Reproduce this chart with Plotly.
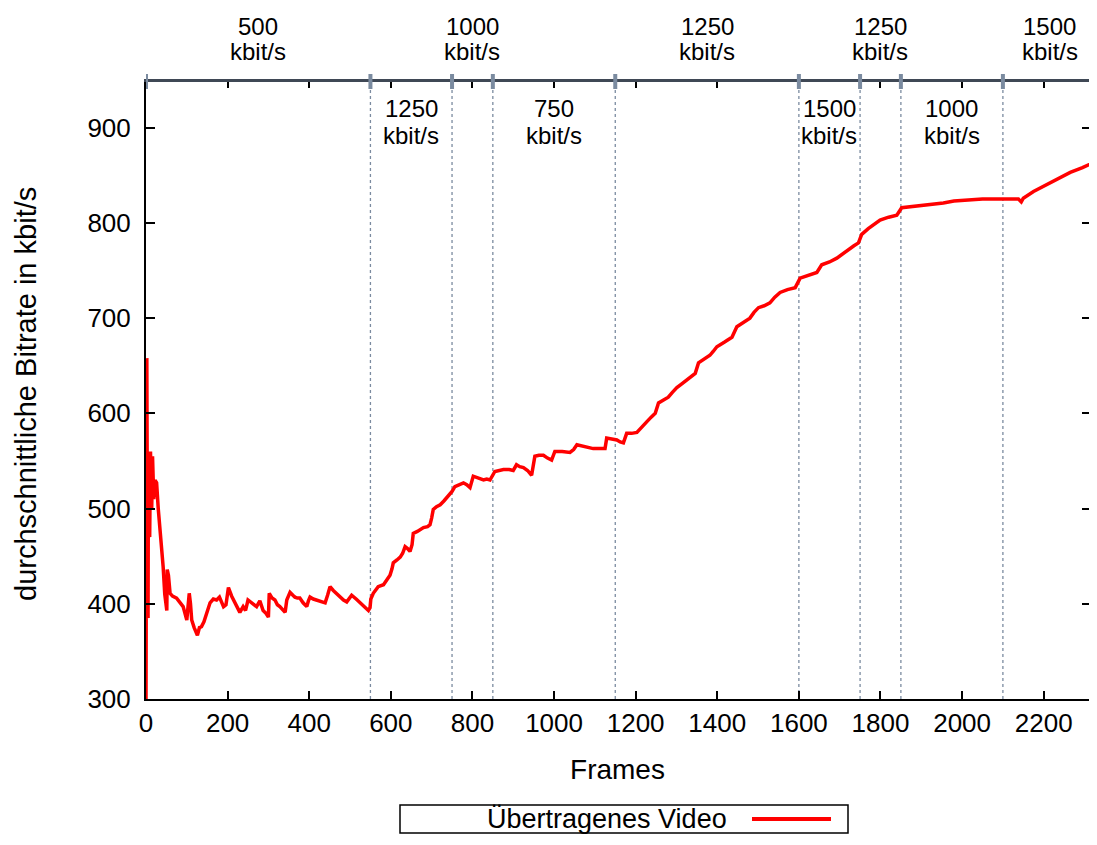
import plotly.graph_objects as go

# ---- data ----
frames = [0, 2, 4, 5, 6, 9, 11, 14, 16, 19, 22, 26, 30, 34, 38, 42, 46, 49, 51, 52, 55, 59, 65, 75, 85, 91,
          100, 103, 106, 109, 112, 118, 126, 131, 136, 142, 149, 153, 157, 165, 173, 180, 190, 196, 202,
          210, 218, 225, 230, 238, 244, 250, 256, 262, 271, 279, 287, 294, 300, 302, 309, 316, 322, 328,
          335, 341, 345, 353, 360, 365, 371, 377, 385, 394, 398, 402, 410, 418, 428, 439, 445, 451, 459,
          467, 475, 484, 492, 498, 504, 515, 525, 535, 545, 549, 551, 557, 569, 582, 590, 598, 603, 606,
          615, 623, 629, 635, 641, 647, 652, 655, 665, 680, 690, 696, 700, 704, 712, 721, 730, 741, 750,
          757, 766, 778, 786, 794, 802, 815, 827, 835, 843, 855, 865, 876, 890, 900, 908, 916, 925, 935,
          945, 953, 963, 974, 984, 994, 1002, 1020, 1039, 1048, 1056, 1066, 1076, 1086, 1096, 1110, 1125,
          1129, 1140, 1154, 1162, 1170, 1178, 1190, 1203, 1215, 1227, 1238, 1248, 1256, 1268, 1280, 1290,
          1301, 1313, 1325, 1336, 1346, 1354, 1368, 1382, 1390, 1399, 1418, 1436, 1448, 1464, 1480, 1490,
          1501, 1515, 1529, 1541, 1554, 1572, 1591, 1603, 1625, 1644, 1656, 1675, 1693, 1708, 1721, 1735,
          1746, 1754, 1770, 1785, 1799, 1820, 1840, 1852, 1875, 1905, 1930, 1954, 1980, 2011, 2050, 2093,
          2120, 2138, 2145, 2150, 2175, 2207, 2235, 2265, 2295, 2330]
bitrate = [300, 658, 390, 385, 560, 470, 560, 500, 555, 510, 530, 527, 500, 481, 460, 439, 410, 393, 393, 436,
           430, 411, 408, 406, 400, 397, 383, 395, 411, 400, 383, 375, 367, 375, 376, 381, 390, 397, 401, 405,
           404, 407, 397, 399, 417, 408, 401, 395, 391, 397, 393, 404, 402, 399, 397, 403, 393, 390, 386, 411,
           406, 404, 399, 397, 393, 391, 404, 412, 409, 407, 406, 406, 401, 397, 403, 407, 405, 404, 402, 401,
           409, 418, 414, 411, 407, 404, 402, 405, 409, 405, 401, 397, 393, 396, 405, 411, 418, 420, 425, 430,
           437, 443, 446, 449, 453, 460, 458, 455, 462, 474, 476, 480, 481, 483, 490, 499, 502, 504, 508, 513,
           518, 523, 525, 527, 525, 522, 534, 532, 530, 531, 530, 539, 540, 541, 541, 540, 546, 544, 543, 540,
           535, 555, 556, 556, 553, 551, 560, 560, 559, 562, 567, 566, 565, 564, 563, 563, 563, 574, 573, 572,
           570, 569, 579, 579, 580, 585, 591, 596, 600, 611, 614, 617, 622, 627, 631, 635, 638, 642, 653, 657,
           661, 665, 670, 675, 680, 691, 695, 700, 706, 711, 713, 716, 722, 727, 730, 732, 742, 745, 748, 756,
           759, 763, 768, 772, 776, 779, 788, 794, 799, 803, 806, 808, 816, 817, 818, 820, 821, 823, 824, 825,
           825, 825, 825, 822, 826, 833, 840, 847, 853, 858, 865]

# bandwidth phases: boundaries (frames) and bitrate limit per phase
phase_bounds = [0, 550, 750, 850, 1150, 1600, 1750, 1850, 2100, 2330]
phase_rates = [500, 1250, 1000, 750, 1250, 1500, 1250, 1000, 1500]

x_ticks = list(range(0, 2201, 200))
y_ticks = list(range(300, 901, 100))

X_RANGE = [0, 2311]
Y_RANGE = [300, 948]

FONT = "Liberation Sans, Arial, Helvetica, sans-serif"
MARK_COLOR = "#7b8ba0"

# page geometry: the html body adds an 8 px margin around the figure
OFF = 8
W, H = 1097 - 2 * OFF, 845 - 2 * OFF
PL, PT, PB = 146, 82, 699          # plot edges in page pixels
L, T, R = PL - OFF, PT - OFF, 0
B = H - (PB - OFF)
PW, PH = W - L - R, H - T - B


def px_x(p):
    return (p - PL) / PW


def px_y(p):
    return (PB - p) / PH


fig = go.Figure()
fig.add_trace(go.Scatter(x=frames, y=bitrate, mode="lines", name="Übertragenes Video",
                         line=dict(color="#ff0000", width=3.5), showlegend=False))
# helper traces so that the top x axis and right y axis are drawn
fig.add_trace(go.Scatter(x=[], y=[], xaxis="x2", yaxis="y", showlegend=False, hoverinfo="skip"))
fig.add_trace(go.Scatter(x=[], y=[], xaxis="x", yaxis="y2", showlegend=False, hoverinfo="skip"))

shapes = []
# dotted phase boundaries
for b in phase_bounds[1:-1]:
    shapes.append(dict(type="line", xref="x", yref="paper", x0=b, x1=b, y0=0, y1=1,
                       line=dict(color=MARK_COLOR, width=1.3, dash="dot"), layer="below"))
# boundary markers on the top axis
for b in phase_bounds[:-1]:
    shapes.append(dict(type="line", xref="x", yref="paper", x0=b, x1=b,
                       y0=1 - 7 / PH, y1=1 + 8 / PH,
                       line=dict(color=MARK_COLOR, width=4), layer="above"))

annotations = []
for i, rate in enumerate(phase_rates):
    cx = (phase_bounds[i] + phase_bounds[i + 1]) / 2
    if i % 2 == 0:
        shifts = (56, 31)
    else:
        shifts = (-26, -53)
    for txt, ys in zip((str(rate), "kbit/s"), shifts):
        annotations.append(dict(x=cx, xref="x", y=1, yref="paper", yshift=ys, text=txt,
                                showarrow=False, xanchor="center", yanchor="middle",
                                font=dict(size=24, color="black", family=FONT)))

# y-axis title
annotations.append(dict(x=0, xref="paper", xshift=26 - PL, y=px_y(394), yref="paper",
                        text="durchschnittliche Bitrate in kbit/s", textangle=-90,
                        showarrow=False, xanchor="center", yanchor="middle",
                        font=dict(size=29, color="black", family=FONT)))

# legend box (drawn manually: text left of the line sample)
LEG_TOP, LEG_BOT = 805, 833
LEG_MID = (LEG_TOP + LEG_BOT) / 2
shapes.append(dict(type="rect", xref="paper", yref="paper",
                   x0=px_x(400), x1=px_x(848), y0=px_y(LEG_BOT), y1=px_y(LEG_TOP),
                   line=dict(color="black", width=1.5), fillcolor="white"))
shapes.append(dict(type="line", xref="paper", yref="paper",
                   x0=px_x(752), x1=px_x(831), y0=px_y(LEG_MID), y1=px_y(LEG_MID),
                   line=dict(color="#ff0000", width=4)))
annotations.append(dict(x=px_x(607), xref="paper", y=px_y(LEG_MID), yref="paper",
                        text="Übertragenes Video", showarrow=False,
                        xanchor="center", yanchor="middle",
                        font=dict(size=27, color="black", family=FONT)))

fig.update_layout(
    width=W, height=H,
    margin=dict(l=L, r=R, t=T, b=B),
    paper_bgcolor="white", plot_bgcolor="white",
    font=dict(family=FONT, size=26, color="black"),
    xaxis=dict(range=X_RANGE, tickvals=x_ticks, ticks="inside", ticklen=8, tickwidth=1.5,
               tickcolor="black", showline=True, linecolor="black", linewidth=2,
               showgrid=False, zeroline=False, tickfont=dict(size=26),
               title=dict(text="Frames", font=dict(size=28), standoff=22)),
    xaxis2=dict(range=X_RANGE, overlaying="x", side="top", tickvals=x_ticks[1:],
                ticks="inside", ticklen=6, tickwidth=1.5, tickcolor="black",
                showticklabels=False, showline=True, linecolor="#3f4855", linewidth=3,
                showgrid=False, zeroline=False),
    yaxis=dict(range=Y_RANGE, tickvals=y_ticks, ticks="inside", ticklen=9, tickwidth=1.5,
               tickcolor="black", showline=True, linecolor="black", linewidth=2,
               showgrid=False, zeroline=False, tickfont=dict(size=26), ticklabelstandoff=8),
    yaxis2=dict(range=Y_RANGE, overlaying="y", side="right", tickvals=y_ticks,
                ticks="inside", ticklen=7, tickwidth=1.5, tickcolor="black",
                showticklabels=False, showline=False, showgrid=False, zeroline=False),
    shapes=shapes,
    annotations=annotations,
    showlegend=False,
)

fig.write_html("out.html")
